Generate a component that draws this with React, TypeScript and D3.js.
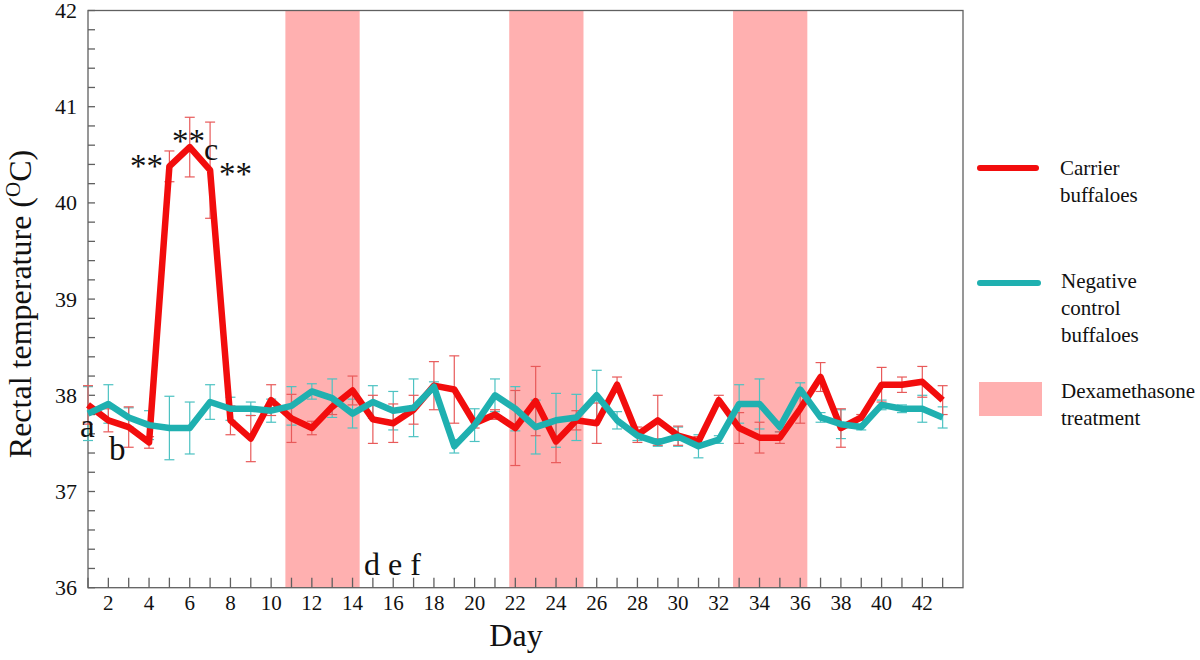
import React from "react";
import * as d3 from "d3";

const days = d3.range(1, 44);
const carrier = [37.9, 37.74, 37.67, 37.51, 40.38, 40.58, 40.34, 37.74, 37.55, 37.95,
  37.76, 37.66, 37.88, 38.05, 37.75, 37.71, 37.85, 38.1, 38.06, 37.71,
  37.8, 37.66, 37.94, 37.52, 37.74, 37.71, 38.11, 37.59, 37.74, 37.58,
  37.52, 37.95, 37.66, 37.56, 37.56, 37.86, 38.19, 37.66, 37.77, 38.11,
  38.11, 38.14, 37.95];
const carrierErr = [0.2, 0.12, 0.21, 0.06, 0.16, 0.31, 0.5, 0.15, 0.24, 0.16,
  0.25, 0.07, 0.08, 0.15, 0.25, 0.2, 0.15, 0.25, 0.35, 0.05,
  0.05, 0.39, 0.36, 0.22, 0.1, 0.21, 0.08, 0.08, 0.26, 0.1,
  0.05, 0.05, 0.16, 0.16, 0.06, 0.15, 0.15, 0.2, 0.03, 0.18,
  0.08, 0.16, 0.15];
const control = [37.81, 37.91, 37.77, 37.69, 37.66, 37.66, 37.93, 37.86, 37.86, 37.84,
  37.89, 38.04, 37.97, 37.81, 37.93, 37.84, 37.87, 38.09, 37.47, 37.69,
  38.0, 37.86, 37.67, 37.74, 37.77, 38.0, 37.74, 37.58, 37.51, 37.57,
  37.47, 37.54, 37.91, 37.91, 37.67, 38.06, 37.77, 37.7, 37.67, 37.9,
  37.86, 37.86, 37.77];
const controlErr = [0.28, 0.2, 0.1, 0.15, 0.33, 0.27, 0.18, 0.12, 0.07, 0.12,
  0.2, 0.08, 0.2, 0.15, 0.17, 0.2, 0.3, 0.05, 0.07, 0.17,
  0.17, 0.23, 0.28, 0.28, 0.24, 0.26, 0.09, 0.05, 0.04, 0.1,
  0.12, 0.04, 0.2, 0.26, 0.05, 0.07, 0.05, 0.15, 0.03, 0.05,
  0.04, 0.14, 0.11];
const treatments: [number, number][] = [[10.7, 14.35], [21.7, 25.35], [32.7, 36.35]];
const yTicks = [36, 37, 38, 39, 40, 41, 42];
const xTickLabels = d3.range(2, 43, 2);

const RED = "#f20d0d";
const RED_ERR = "#e85a5a";
const TEAL = "#1fb0b0";
const TEAL_ERR = "#4cc2c2";
const SHADE = "#ffb0b0";
const AXIS = "#606060";
const FONT = "'Liberation Serif', 'Times New Roman', serif";

export default function App() {
  const left = 88, right = 963, top = 10.5, bottom = 587.7;
  const x = d3.scaleLinear().domain([1, 44]).range([left, right]);
  const y = d3.scaleLinear().domain([36, 42]).range([bottom, top]);
  const line = d3.line<number>().x((_, i) => x(days[i])).y((v) => y(v));
  const minor = d3.range(36, 42.001, 0.2);

  const errBars = (vals: number[], errs: number[], color: string, key: string) =>
    vals.map((v, i) => {
      const cx = x(days[i]);
      const y1 = y(v + errs[i]);
      const y2 = y(v - errs[i]);
      return (
        <g key={key + i} stroke={color} strokeWidth={1.2}>
          <line x1={cx} x2={cx} y1={y1} y2={y2} />
          <line x1={cx - 5} x2={cx + 5} y1={y1} y2={y1} />
          <line x1={cx - 5} x2={cx + 5} y1={y2} y2={y2} />
        </g>
      );
    });

  return (
    <div style={{ position: "absolute", left: 0, top: 0 }}>
      <svg width={1200} height={660} style={{ display: "block", background: "#fff", fontFamily: FONT }}>
        {treatments.map(([a, b], i) => (
          <rect key={"t" + i} x={x(a)} y={top} width={x(b) - x(a)} height={bottom - top} fill={SHADE} />
        ))}
        <rect x={left} y={top} width={right - left} height={bottom - top} fill="none" stroke={AXIS} strokeWidth={1.3} />
        {minor.map((v, i) => (
          <line key={"ym" + i} x1={left} x2={left + 7} y1={y(v)} y2={y(v)} stroke={AXIS} strokeWidth={1.3} />
        ))}
        {yTicks.map((v) => (
          <text key={"yl" + v} x={77} y={y(v) + 7.5} fontSize={22} textAnchor="end" fill="#111">{v}</text>
        ))}
        {days.map((d) => (
          <line key={"xt" + d} x1={x(d)} x2={x(d)} y1={bottom} y2={bottom - 10} stroke={AXIS} strokeWidth={1.3} />
        ))}
        {xTickLabels.map((d) => (
          <text key={"xl" + d} x={x(d)} y={610} fontSize={21} textAnchor="middle" fill="#111">{d}</text>
        ))}
        {errBars(control, controlErr, TEAL_ERR, "ce")}
        {errBars(carrier, carrierErr, RED_ERR, "re")}
        <path d={line(carrier) || ""} fill="none" stroke={RED} strokeWidth={6.5} strokeLinejoin="round" />
        <path d={line(control) || ""} fill="none" stroke={TEAL} strokeWidth={6.5} strokeLinejoin="round" />
        <g fill="#111">
          <text x={130} y={177} fontSize={33}>**</text>
          <text x={172} y={152} fontSize={33}>**</text>
          <text x={204} y={160} fontSize={32}>c</text>
          <text x={219} y={185} fontSize={33}>**</text>
          <text x={80} y={437} fontSize={33}>a</text>
          <text x={109} y={460} fontSize={33}>b</text>
          <text x={364} y={575} fontSize={32}>d e f</text>
        </g>
        <text x={516} y={646} fontSize={32} textAnchor="middle" fill="#111">Day</text>
        <text transform="translate(31,304) rotate(-90)" fontSize={32} textAnchor="middle" fill="#111">
          Rectal temperature (<tspan fontSize={21} dy={-11}>O</tspan><tspan dy={11}>C)</tspan>
        </text>
        <line x1={980} x2={1036} y1={168} y2={168} stroke={RED} strokeWidth={6} strokeLinecap="round" />
        <text x={1060} y={175} fontSize={21} fill="#111">Carrier</text>
        <text x={1060} y={202} fontSize={21} fill="#111">buffaloes</text>
        <line x1={980} x2={1038} y1={283} y2={283} stroke={TEAL} strokeWidth={6} strokeLinecap="round" />
        <text x={1061} y={288} fontSize={21} fill="#111">Negative</text>
        <text x={1061} y={315} fontSize={21} fill="#111">control</text>
        <text x={1061} y={342} fontSize={21} fill="#111">buffaloes</text>
        <rect x={979} y={382} width={63} height={34} fill={SHADE} />
        <text x={1061} y={398} fontSize={21} fill="#111">Dexamethasone</text>
        <text x={1061} y={425} fontSize={21} fill="#111">treatment</text>
      </svg>
    </div>
  );
}
